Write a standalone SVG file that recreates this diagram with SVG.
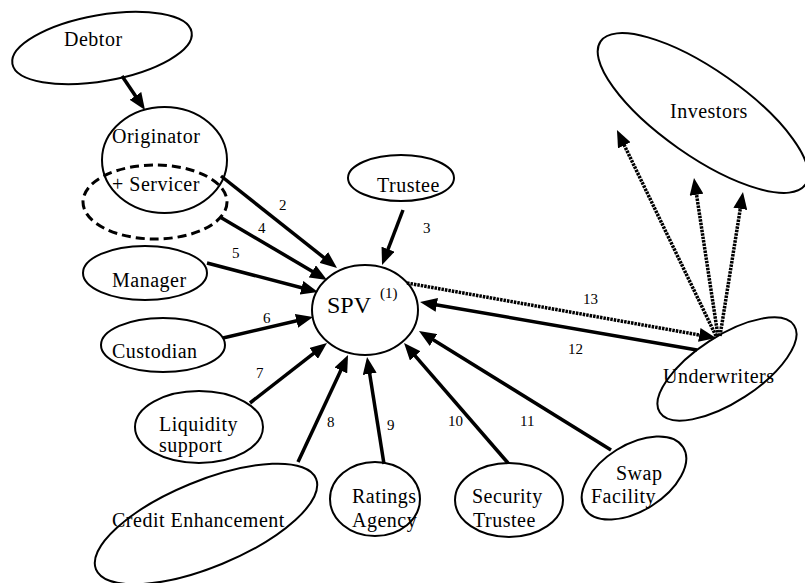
<svg xmlns="http://www.w3.org/2000/svg" width="805" height="583" viewBox="0 0 805 583">
<style>
.n{fill:none;stroke:#000;stroke-width:2}
.d{fill:none;stroke:#000;stroke-width:3;stroke-dasharray:9 5}
.t{font-family:'Liberation Serif','DejaVu Serif','Noto Serif',serif;font-size:20px;letter-spacing:0.5px;fill:#000}
.l{font-family:'Liberation Serif','DejaVu Serif','Noto Serif',serif;font-size:15px;fill:#000}
.a{stroke:#000;stroke-width:3.5;fill:none;marker-end:url(#ah)}
.p{stroke:#000;stroke-width:3.5;fill:none;stroke-dasharray:2.5 1;marker-end:url(#ah)}
</style>
<defs>
<marker id="ah" markerUnits="userSpaceOnUse" markerWidth="17" markerHeight="14" refX="7" refY="7" orient="auto" viewBox="0 0 17 14">
<path d="M0,0 L17,7 L0,14 z" fill="#000"/>
</marker>
</defs>
<rect width="805" height="583" fill="#fff"/>
<g id="connectors">
<line class="a" x1="122" y1="76" x2="139.4" y2="101.7"/>
<line class="a" x1="221" y1="176" x2="329.2" y2="261.8"/>
<line class="a" x1="403" y1="210" x2="385.6" y2="255.7"/>
<line class="a" x1="220" y1="217" x2="318.4" y2="274.9"/>
<line class="a" x1="207" y1="263" x2="308.3" y2="289.5"/>
<line class="a" x1="223" y1="338" x2="303.3" y2="319.3"/>
<line class="a" x1="250" y1="403" x2="319.1" y2="349.1"/>
<line class="a" x1="298" y1="462" x2="343.8" y2="364.1"/>
<line class="a" x1="384" y1="464" x2="368.6" y2="366.9"/>
<line class="a" x1="508" y1="463" x2="410.6" y2="350.6"/>
<line class="a" x1="611" y1="450" x2="427.5" y2="336.3"/>
<line class="a" x1="697" y1="350" x2="429.9" y2="303.7"/>
<line class="p" x1="407" y1="283" x2="706.2" y2="336.2"/>
<line class="p" x1="716" y1="336" x2="621.3" y2="139"/>
<line class="p" x1="718" y1="336" x2="695.5" y2="187.9"/>
<line class="p" x1="720" y1="336" x2="741.4" y2="201.9"/>
<text class="l" x="279" y="210">2</text>
<text class="l" x="423" y="233">3</text>
<text class="l" x="258" y="233">4</text>
<text class="l" x="232" y="258">5</text>
<text class="l" x="263" y="323">6</text>
<text class="l" x="256" y="378">7</text>
<text class="l" x="327" y="427">8</text>
<text class="l" x="387" y="430">9</text>
<text class="l" x="448" y="426">10</text>
<text class="l" x="520" y="426">11</text>
<text class="l" x="568" y="354">12</text>
<text class="l" x="583" y="304">13</text>
</g>
<g id="debtor">
<ellipse class="n" cx="102" cy="48" rx="91" ry="33" transform="rotate(-10 102 48)"/>
<text class="t" x="64" y="46">Debtor</text>
</g>
<g id="originator">
<ellipse class="n" cx="164.5" cy="160" rx="62.5" ry="53"/>
<text class="t" x="112" y="143">Originator</text>
</g>
<g id="servicer">
<ellipse class="d" cx="155" cy="202" rx="72" ry="37"/>
<text class="t" x="112" y="191">+ Servicer</text>
</g>
<g id="trustee">
<ellipse class="n" cx="401" cy="178" rx="53" ry="23"/>
<text class="t" x="377" y="192">Trustee</text>
</g>
<g id="spv">
<ellipse class="n" cx="365" cy="310" rx="53" ry="45"/>
<text class="t" x="327" y="313" style="font-size:24px;letter-spacing:0">SPV</text>
<text class="l" x="380" y="298">(1)</text>
</g>
<g id="manager">
<ellipse class="n" cx="145" cy="273" rx="62" ry="27"/>
<text class="t" x="112" y="287">Manager</text>
</g>
<g id="custodian">
<ellipse class="n" cx="163" cy="345" rx="62" ry="27"/>
<text class="t" x="112" y="358">Custodian</text>
</g>
<g id="liquidity">
<ellipse class="n" cx="199" cy="427" rx="64" ry="36"/>
<text class="t" x="159" y="431">Liquidity</text>
<text class="t" x="159" y="452">support</text>
</g>
<g id="credit">
<ellipse class="n" cx="206" cy="524" rx="119" ry="43" transform="rotate(-22.4 206 524)"/>
<text class="t" x="112" y="527">Credit Enhancement</text>
</g>
<g id="ratings">
<ellipse class="n" cx="375" cy="499" rx="45" ry="37"/>
<text class="t" x="352" y="503">Ratings</text>
<text class="t" x="352" y="527">Agency</text>
</g>
<g id="security">
<ellipse class="n" cx="509" cy="500" rx="54" ry="37"/>
<text class="t" x="472" y="503">Security</text>
<text class="t" x="473" y="527">Trustee</text>
</g>
<g id="swap">
<ellipse class="n" cx="634" cy="478" rx="58" ry="33" transform="rotate(-32 634 478)"/>
<text class="t" x="616" y="480">Swap</text>
<text class="t" x="591" y="503">Facility</text>
</g>
<g id="underwriters">
<ellipse class="n" cx="727" cy="369" rx="80" ry="33" transform="rotate(-33 727 369)"/>
<text class="t" x="663" y="383">Underwriters</text>
</g>
<g id="investors">
<ellipse class="n" cx="703" cy="113" rx="125" ry="43" transform="rotate(35 703 113)"/>
<text class="t" x="670" y="118">Investors</text>
</g>
</svg>
